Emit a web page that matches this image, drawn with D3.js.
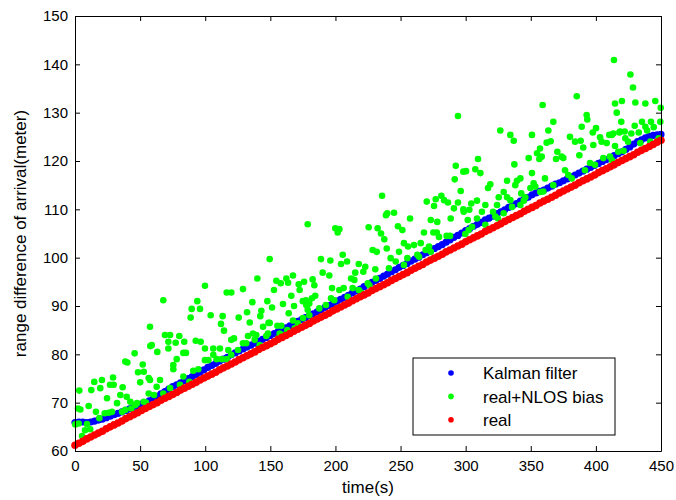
<!DOCTYPE html>
<html>
<head>
<meta charset="utf-8">
<script src="https://cdn.jsdelivr.net/npm/d3@7"></script>
<style>
  body { margin: 0; background: #fff; }
  svg { display: block; }
  text { font-family: Arial, "Liberation Sans", sans-serif; fill: #000; }
</style>
</head>
<body>
<svg id="chart" width="676" height="500"></svg>
<script>
// Sample instants (s) of the true range and the Kalman estimate
const sampleTime = d3.range(0, 451, 3);

// True range difference of arrival (m)
const realRange = [
  61.2, 61.6, 62.0, 62.5, 62.9, 63.3, 63.7, 64.1, 64.6, 65.0,
  65.4, 65.8, 66.2, 66.7, 67.1, 67.5, 67.9, 68.4, 68.8, 69.2,
  69.6, 70.0, 70.5, 70.9, 71.3, 71.7, 72.1, 72.6, 73.0, 73.4,
  73.8, 74.2, 74.7, 75.1, 75.5, 75.9, 76.3, 76.8, 77.2, 77.6,
  78.0, 78.4, 78.9, 79.3, 79.7, 80.1, 80.5, 81.0, 81.4, 81.8,
  82.2, 82.6, 83.1, 83.5, 83.9, 84.3, 84.8, 85.2, 85.6, 86.0,
  86.4, 86.9, 87.3, 87.7, 88.1, 88.5, 89.0, 89.4, 89.8, 90.2,
  90.6, 91.1, 91.5, 91.9, 92.3, 92.7, 93.2, 93.6, 94.0, 94.4,
  94.8, 95.3, 95.7, 96.1, 96.5, 96.9, 97.4, 97.8, 98.2, 98.6,
  99.1, 99.5, 99.9, 100.3, 100.7, 101.2, 101.6, 102.0, 102.4, 102.8,
  103.3, 103.7, 104.1, 104.5, 104.9, 105.4, 105.8, 106.2, 106.6, 107.0,
  107.5, 107.9, 108.3, 108.7, 109.1, 109.6, 110.0, 110.4, 110.8, 111.3,
  111.7, 112.1, 112.5, 112.9, 113.4, 113.8, 114.2, 114.6, 115.0, 115.5,
  115.9, 116.3, 116.7, 117.1, 117.6, 118.0, 118.4, 118.8, 119.2, 119.7,
  120.1, 120.5, 120.9, 121.3, 121.8, 122.2, 122.6, 123.0, 123.4, 123.9,
  124.3
];

// Kalman filter estimate (m)
const kalmanRange = [
  65.9, 66.0, 66.0, 65.9, 66.0, 66.2, 66.4, 66.6, 66.9, 67.2,
  67.5, 67.8, 68.1, 68.4, 68.7, 69.0, 69.3, 69.7, 70.0, 70.4,
  70.8, 71.3, 71.8, 72.3, 72.8, 73.3, 73.7, 74.1, 74.6, 75.0,
  75.4, 75.8, 76.3, 76.8, 77.3, 77.7, 78.1, 78.6, 79.0, 79.4,
  79.9, 80.3, 80.7, 81.1, 81.5, 81.9, 82.3, 82.7, 83.1, 83.5,
  83.9, 84.3, 84.7, 85.1, 85.5, 85.9, 86.3, 86.8, 87.2, 87.6,
  88.0, 88.4, 88.8, 89.2, 89.7, 90.1, 90.5, 91.0, 91.4, 91.8,
  92.2, 92.7, 93.1, 93.5, 94.0, 94.4, 94.9, 95.3, 95.7, 96.2,
  96.6, 97.1, 97.5, 98.0, 98.4, 98.8, 99.3, 99.7, 100.1, 100.6,
  101.0, 101.4, 101.9, 102.3, 102.7, 103.2, 103.7, 104.2, 104.6, 105.1,
  105.6, 106.0, 106.5, 106.9, 107.3, 107.8, 108.2, 108.6, 109.1, 109.5,
  109.9, 110.4, 110.8, 111.2, 111.7, 112.1, 112.5, 113.0, 113.4, 113.7,
  114.0, 114.4, 114.8, 115.2, 115.5, 115.9, 116.3, 116.7, 117.1, 117.5,
  117.9, 118.3, 118.7, 119.1, 119.5, 119.9, 120.3, 120.7, 121.1, 121.5,
  121.9, 122.4, 122.9, 123.5, 124.0, 124.4, 124.8, 125.1, 125.3, 125.4,
  125.5
];

// Measurements with NLOS bias: time (s) and range (m)
const nlosTime = [
  0.2, 2.3, 2.8, 3.3, 4.1, 5.4, 7.7, 9.2, 10.5, 11.7, 12.5, 14.8, 16.1, 18.7, 19.4,
  20.7, 22.8, 24.6, 25.9, 26.9, 28.4, 29.2, 29.7, 32.3, 34.8, 36.1, 36.6, 38.6, 38.6,
  39.7, 40.2, 42.5, 43.2, 45.8, 46.3, 47.6, 48.4, 50.1, 52.0, 52.8, 52.8, 54.5, 56.6,
  56.6, 57.8,
  99.8, 116.5, 67.8, 93.9, 89.6, 96.0, 104.2, 88.8, 113.4, 112.1, 57.6, 114.4, 69.1,
  73.0, 80.1, 71.7, 77.3, 83.9, 92.7, 96.5, 58.9, 71.7, 63.2, 99.8, 106.2, 111.3,
  83.2, 85.2, 117.7, 106.2, 78.1, 108.8, 75.5, 75.5, 90.8, 94.7, 99.8, 102.4, 112.7,
  116.5, 65.3, 83.2, 80.6, 87.8, 62.7, 67.8, 57.6, 73.0, 60.7,
  149.5, 140.0, 154.6, 158.0, 162.3, 163.6, 167.4, 171.8, 175.9, 120.0, 129.0, 152.8,
  172.5, 166.1, 136.2, 147.7, 159.7, 174.9, 177.6, 143.1, 151.3, 132.1, 164.1, 168.2,
  142.3, 125.7, 134.2, 149.5, 148.6, 144.4, 155.4, 158.4, 167.4, 171.2, 175.1, 122.1,
  120.0, 129.0, 131.5, 136.7, 139.2, 146.9, 148.2, 157.2, 159.7, 163.0, 132.9, 138.0,
  125.2, 120.0, 141.8, 153.4, 155.9, 168.7,
  235.8, 238.8, 178.7, 199.9, 203.0, 201.7, 225.5, 232.4, 235.0, 237.5, 228.6, 231.7,
  205.6, 188.9, 196.1, 204.3, 208.9, 217.9, 222.9, 221.4, 190.2, 195.3, 215.2, 230.6,
  182.5, 183.8, 212.0, 214.5, 224.8, 231.1, 197.4, 203.0, 206.3, 213.2, 217.9, 226.0,
  177.4, 179.9, 182.0, 184.5, 196.6, 199.1, 209.4, 219.6, 192.7, 187.6, 178.7, 179.9,
  292.4, 291.6, 298.2, 296.2, 270.1, 277.0, 281.3, 283.4, 286.4, 291.0, 294.1, 298.2,
  239.8, 245.0, 275.7, 257.3, 273.2, 278.2, 288.5, 248.0, 251.4, 268.0, 275.2, 277.8,
  288.0, 285.4, 239.4, 252.6, 255.7, 260.3, 265.5, 271.9, 279.5, 248.8, 242.4, 246.3,
  262.9, 264.2, 269.3, 273.2, 255.2, 252.6, 241.1, 294.1,
  326.6, 334.3, 336.9, 350.9, 354.8, 356.6, 348.4, 309.5, 337.4, 300.3, 307.4, 311.3,
  342.0, 339.4, 338.1, 331.8, 350.9, 352.2, 349.7, 353.5, 318.9, 317.2, 329.2, 331.8,
  334.3, 342.7, 345.8, 344.6, 357.3, 308.7, 304.3, 315.1, 325.4, 324.1, 298.5, 302.8,
  312.5, 321.0, 322.8, 324.8, 329.2, 335.6, 342.0, 301.6, 304.9, 302.3, 308.7, 315.1,
  299.7,
  413.9, 385.3, 359.1, 414.7, 416.0, 392.9, 393.4, 367.3, 389.1, 363.5, 400.1, 397.6,
  413.4, 418.5, 380.1, 403.2, 410.3, 412.2, 362.2, 365.3, 384.0, 388.3, 357.1, 358.4,
  390.3, 398.0, 404.4, 408.3, 370.4, 373.7, 369.4, 375.0, 387.3, 405.7, 410.8, 412.2,
  414.7, 417.2, 376.3, 378.8, 381.4, 395.5, 399.3, 391.6, 360.9, 367.3, 359.6,
  426.5, 428.5, 420.0, 430.3, 438.0, 445.6, 449.8, 419.5, 435.4, 442.3, 449.5, 429.8,
  438.0, 444.4, 439.3, 418.0, 422.1, 427.2, 432.9, 422.6, 424.7, 421.3, 434.1, 441.8,
  448.2
];
const nlosRange = [
  65.5, 68.8, 65.7, 72.5, 68.6, 63.1, 64.3, 65.6, 69.3, 64.5, 72.6, 74.3, 68.1, 66.8, 73.0,
  74.7, 67.8, 70.9, 67.9, 73.7, 68.1, 75.2, 73.7, 69.9, 71.6, 68.1, 73.2, 78.5, 68.5,
  71.2, 78.3, 70.2, 68.8, 80.2, 69.5, 69.9, 76.3, 74.2, 77.9, 76.4, 70.2, 70.0, 75.1,
  71.9, 81.7,
  94.2, 92.8, 91.2, 91.0, 89.4, 89.4, 88.1, 87.6, 87.9, 86.3, 85.7, 84.9, 84.0,
  84.0, 83.8, 82.6, 82.4, 82.6, 82.8, 82.6, 81.9, 81.2, 80.5, 81.2, 81.2, 81.2,
  80.3, 80.3, 80.9, 79.9, 79.0, 79.0, 77.8, 76.9, 76.6, 76.9, 78.8, 78.8, 79.0,
  79.0, 74.7, 75.4, 73.7, 74.3, 73.3, 71.9, 74.7, 73.0, 71.6,
  99.7, 95.7, 95.2, 94.7, 95.7, 94.8, 96.3, 94.5, 95.0, 92.8, 93.5, 93.3,
  93.3, 92.1, 90.8, 91.0, 90.4, 91.0, 90.2, 89.0, 89.7, 88.7, 88.5, 90.0,
  87.9, 87.6, 86.6, 86.5, 86.5, 85.7, 85.9, 85.9, 87.0, 86.4, 87.5, 83.3,
  83.0, 82.3, 82.3, 84.3, 84.0, 83.8, 84.3, 84.3, 84.0, 85.0, 83.8, 83.0,
  80.9, 79.9, 81.9, 82.6, 83.3, 85.4,
  112.8, 108.8, 106.9, 106.1, 105.9, 105.2, 106.3, 106.1, 105.0, 103.8, 101.6, 101.2,
  100.6, 99.7, 99.4, 98.7, 99.2, 98.7, 98.1, 97.1, 96.9, 96.3, 96.9, 97.6,
  95.5, 94.3, 95.7, 95.4, 94.7, 95.7, 93.7, 93.3, 93.7, 93.7, 93.3, 94.3,
  91.2, 90.5, 91.6, 92.1, 91.6, 91.2, 91.9, 92.8, 90.2, 89.5, 89.2, 88.1,
  119.0, 116.2, 117.8, 113.8, 111.6, 112.1, 112.8, 111.9, 111.4, 110.2, 111.4, 110.0,
  109.2, 109.3, 110.7, 108.1, 107.8, 107.4, 108.1, 106.5, 105.7, 105.2, 105.2, 105.2,
  104.5, 104.5, 101.9, 103.0, 102.3, 102.6, 103.0, 102.3, 104.3, 101.2, 99.9, 99.2,
  100.6, 100.2, 101.6, 101.2, 99.9, 98.5, 97.8, 129.3,
  126.3, 125.4, 124.2, 125.4, 121.6, 120.4, 120.6, 120.4, 119.3, 117.9, 118.3, 117.5,
  116.4, 115.9, 115.0, 115.9, 117.5, 115.4, 114.4, 114.7, 115.2, 114.4, 113.6, 112.5,
  111.9, 113.3, 112.5, 111.8, 113.6, 111.8, 111.2, 110.9, 112.5, 110.9, 109.5, 109.9,
  109.5, 109.5, 108.5, 108.1, 109.2, 110.5, 110.9, 107.8, 106.4, 105.7, 108.1, 106.8,
  104.9,
  140.9, 133.4, 131.6, 131.9, 130.0, 129.5, 128.6, 128.1, 127.1, 126.3, 126.8, 125.9,
  125.7, 126.1, 125.0, 124.9, 125.4, 125.4, 123.8, 124.1, 124.0, 124.2, 122.6, 120.9,
  122.8, 123.3, 124.0, 123.7, 121.9, 120.9, 120.4, 120.6, 121.2, 120.6, 120.9, 120.2,
  123.1, 121.9, 118.1, 117.1, 116.4, 119.6, 119.2, 118.1, 116.4, 115.0, 113.7,
  137.9, 135.2, 132.4, 132.1, 131.9, 132.4, 131.0, 128.1, 128.1, 128.1, 128.1, 127.3,
  127.1, 127.0, 126.3, 125.9, 126.1, 125.7, 125.9, 124.7, 124.0, 122.1, 123.7, 124.0,
  124.7
];

// Axis ticks
const xTicks = [0, 50, 100, 150, 200, 250, 300, 350, 400, 450];
const yTicks = [60, 70, 80, 90, 100, 110, 120, 130, 140, 150];

// Legend entries, in plotting order
const seriesNames = ["Kalman filter", "real+NLOS bias", "real"];
const seriesColors = ["#0000ff", "#00ff00", "#ff0000"];

const W = 676, H = 500;
const margin = { left: 75, right: 15, top: 16, bottom: 49 };

const svg = d3.select("#chart");
const x = d3.scaleLinear().domain([0, 450]).range([margin.left, W - margin.right]);
const y = d3.scaleLinear().domain([60, 150]).range([H - margin.bottom, margin.top]);

const plot = svg.append("g");

// Kalman estimate
plot.append("g").selectAll("circle")
  .data(kalmanRange)
  .join("circle")
  .attr("cx", (d, i) => x(sampleTime[i]))
  .attr("cy", d => y(d))
  .attr("r", 3.6)
  .attr("fill", seriesColors[0]);

// NLOS-biased measurements
plot.append("g").selectAll("circle")
  .data(nlosRange)
  .join("circle")
  .attr("cx", (d, i) => x(nlosTime[i]))
  .attr("cy", d => y(d))
  .attr("r", 3.3)
  .attr("fill", seriesColors[1]);

// True range
plot.append("g").selectAll("circle")
  .data(realRange)
  .join("circle")
  .attr("cx", (d, i) => x(sampleTime[i]))
  .attr("cy", d => y(d))
  .attr("r", 3.8)
  .attr("fill", seriesColors[2]);

// Axes: labelled bottom/left, tick-only top/right, ticks pointing inward
const tickFont = 15;
const labelFont = 17;
function styleAxis(g) {
  g.selectAll("path.domain").attr("stroke", "#000").attr("stroke-width", 1);
  g.selectAll(".tick line").attr("stroke", "#000");
  g.selectAll("text").attr("font-size", tickFont).attr("font-family", "Arial, 'Liberation Sans', sans-serif").attr("fill", "#000");
}

svg.append("g")
  .attr("transform", `translate(0,${H - margin.bottom})`)
  .call(d3.axisBottom(x).tickValues(xTicks).tickSizeInner(-5).tickSizeOuter(0).tickPadding(9))
  .call(styleAxis);

svg.append("g")
  .attr("transform", `translate(${margin.left},0)`)
  .call(d3.axisLeft(y).tickValues(yTicks).tickSizeInner(-5).tickSizeOuter(0).tickPadding(7))
  .call(styleAxis);

svg.append("g")
  .attr("transform", `translate(0,${margin.top})`)
  .call(d3.axisTop(x).tickValues(xTicks).tickSizeInner(-5).tickSizeOuter(0).tickFormat(""))
  .call(styleAxis);

svg.append("g")
  .attr("transform", `translate(${W - margin.right},0)`)
  .call(d3.axisRight(y).tickValues(yTicks).tickSizeInner(-5).tickSizeOuter(0).tickFormat(""))
  .call(styleAxis);

// Axis titles
svg.append("text")
  .attr("x", 368)
  .attr("y", 493)
  .attr("text-anchor", "middle")
  .attr("font-size", labelFont)
  .text("time(s)");

svg.append("text")
  .attr("transform", `translate(26,${(margin.top + H - margin.bottom) / 2}) rotate(-90)`)
  .attr("text-anchor", "middle")
  .attr("font-size", labelFont)
  .text("range difference of arrival(meter)");

// Legend
const legend = svg.append("g").attr("transform", "translate(413,358)");
legend.append("rect")
  .attr("width", 202).attr("height", 77)
  .attr("fill", "#fff").attr("stroke", "#000").attr("stroke-width", 1);
const rows = legend.selectAll("g.row")
  .data(seriesNames)
  .join("g")
  .attr("class", "row")
  .attr("transform", (d, i) => `translate(0,${15 + i * 23.4})`);
rows.append("circle")
  .attr("cx", 38).attr("cy", 0).attr("r", 2.8)
  .attr("fill", (d, i) => seriesColors[i]);
rows.append("text")
  .attr("x", 70).attr("y", 0).attr("dy", "0.36em")
  .attr("font-size", labelFont)
  .text(d => d);
</script>
</body>
</html>
